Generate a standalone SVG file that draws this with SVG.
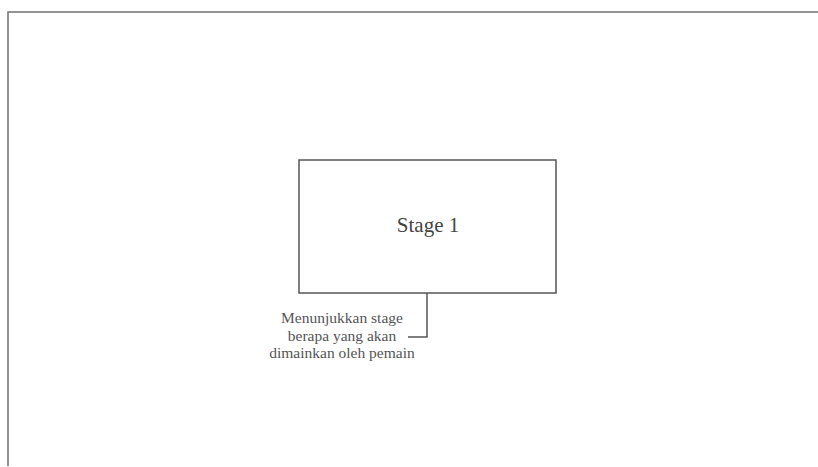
<svg xmlns="http://www.w3.org/2000/svg" width="818" height="467" viewBox="0 0 818 467">
<style>
.frame{fill:none;stroke:#707070;stroke-width:1.5}
.node{fill:#ffffff;stroke:#555555;stroke-width:1.5}
.conn{fill:none;stroke:#555555;stroke-width:1.5}
.title{font-family:"Liberation Serif","Times New Roman",serif;font-size:21px;fill:#444444;text-anchor:middle}
.note{font-family:"Liberation Serif","Times New Roman",serif;font-size:15.5px;fill:#555555;text-anchor:middle}
</style>
<rect x="0" y="0" width="818" height="467" fill="#ffffff"/>
<polyline class="frame" points="8,466 8,12 818,12"/>
<g id="stage1">
<rect class="node" x="299" y="160" width="257" height="133"/>
<text class="title" x="428" y="232">Stage 1</text>
</g>
<g id="connectors">
<polyline class="conn" points="427,293 427,337 408,337"/>
</g>
<g id="note">
<text class="note" x="342" y="323">Menunjukkan stage</text>
<text class="note" x="342" y="341">berapa yang akan</text>
<text class="note" x="342" y="358">dimainkan oleh pemain</text>
</g>
</svg>
